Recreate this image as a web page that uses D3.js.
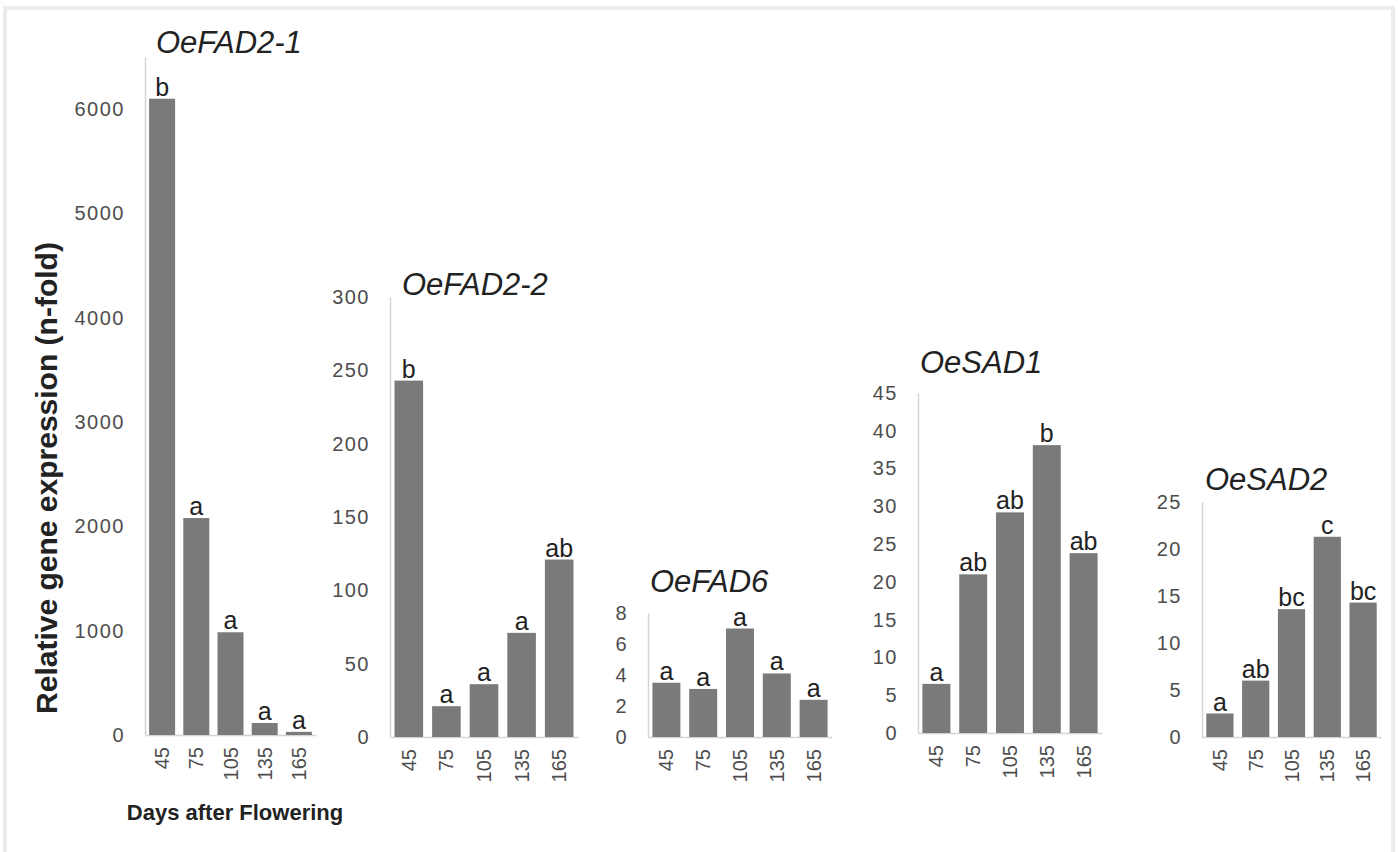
<!doctype html>
<html>
<head>
	<script src="https://d3js.org/d3.v7.min.js"></script>
</head>
<body style="margin: 0; background-color: white;">
	<div id="my_dataviz"></div>
	<script>
		// data
		var days = ["45", "75", "105", "135", "165"];
		var genes = ["OeFAD2-1", "OeFAD2-2", "OeFAD6", "OeSAD1", "OeSAD2"];

		var fad21 = [6100, 2080, 985, 115, 30];
		var fad22 = [243, 21, 36, 71, 121];
		var fad6 = [3.5, 3.1, 7.0, 4.1, 2.4];
		var sad1 = [6.5, 21, 29.2, 38.1, 23.8];
		var sad2 = [2.5, 6.0, 13.6, 21.3, 14.3];

		var fad21Letters = ["b", "a", "a", "a", "a"];
		var fad22Letters = ["b", "a", "a", "a", "ab"];
		var fad6Letters = ["a", "a", "a", "a", "a"];
		var sad1Letters = ["a", "ab", "ab", "b", "ab"];
		var sad2Letters = ["a", "ab", "bc", "c", "bc"];

		var fad21Ticks = [0, 1000, 2000, 3000, 4000, 5000, 6000];
		var fad22Ticks = [0, 50, 100, 150, 200, 250, 300];
		var fad6Ticks = [0, 2, 4, 6, 8];
		var sad1Ticks = [0, 5, 10, 15, 20, 25, 30, 35, 40, 45];
		var sad2Ticks = [0, 5, 10, 15, 20, 25];

		var values = [fad21, fad22, fad6, sad1, sad2];
		var letters = [fad21Letters, fad22Letters, fad6Letters, sad1Letters, sad2Letters];
		var ticks = [fad21Ticks, fad22Ticks, fad6Ticks, sad1Ticks, sad2Ticks];
		var yMax = [6500, 300, 8, 45, 25];

		// panel placement on the page
		var panels = [
			{x0: 145, x1: 316, base: 735, top: 57, tx: 156, ty: 53},
			{x0: 390, x1: 578, base: 737, top: 297, tx: 402, ty: 295},
			{x0: 648, x1: 832, base: 737, top: 613, tx: 650, ty: 592},
			{x0: 918, x1: 1102, base: 733, top: 393, tx: 920, ty: 373},
			{x0: 1202, x1: 1381, base: 737, top: 502, tx: 1205, ty: 490}
		];

		var W = 1398, H = 852;
		var font = "Liberation Sans, Arial, Helvetica, sans-serif";

		var svg = d3.select("#my_dataviz")
		  .append("svg")
			.attr("width", W)
			.attr("height", H)
			.style("display", "block");

		// faint frame round the figure
		svg.append("rect")
			.attr("x", 5).attr("y", 8)
			.attr("width", 1388).attr("height", 900)
			.attr("fill", "none")
			.attr("stroke", "#ececec")
			.attr("stroke-width", 4);

		panels.forEach(function(p, i) {
			var x = d3.scaleBand()
				.domain(days)
				.range([p.x0, p.x1])
				.paddingInner(0.24)
				.paddingOuter(0.12);
			var y = d3.scaleLinear()
				.domain([0, yMax[i]])
				.range([p.base, p.top]);

			var g = svg.append("g");

			// y axis
			var ya = g.append("g")
				.attr("transform", "translate(" + p.x0 + ",0)")
				.call(d3.axisLeft(y).tickValues(ticks[i]).tickFormat(d3.format("d")).tickSize(0).tickPadding(20));
			ya.select(".domain").attr("stroke", "#d4d4d4").attr("stroke-width", 1.5);
			ya.selectAll("text")
				.style("font-family", font)
				.style("font-size", "20px")
				.style("letter-spacing", "1.5px")
				.attr("fill", "#4d4d4d");

			// x axis
			var xa = g.append("g")
				.attr("transform", "translate(0," + p.base + ")")
				.call(d3.axisBottom(x).tickSize(0).tickSizeOuter(0));
			xa.select(".domain").attr("stroke", "#d4d4d4").attr("stroke-width", 1.5);
			xa.selectAll("text")
				.attr("transform", "rotate(-90)")
				.attr("text-anchor", "end")
				.attr("x", -12)
				.attr("y", 0)
				.attr("dy", "0.35em")
				.style("font-family", font)
				.style("font-size", "20px")
				.attr("fill", "#4d4d4d");

			var rows = days.map(function(d, j) { return {day: d, v: values[i][j], l: letters[i][j]}; });

			// bars
			g.selectAll("rect.bar")
				.data(rows)
				.enter()
				.append("rect")
				  .attr("class", "bar")
				  .attr("x", function(d) { return x(d.day); })
				  .attr("width", x.bandwidth())
				  .attr("y", function(d) { return y(d.v); })
				  .attr("height", function(d) { return p.base - y(d.v); })
				  .attr("fill", "#7a7a7a");

			// significance letters
			g.selectAll("text.lbl")
				.data(rows)
				.enter()
				.append("text")
				  .attr("class", "lbl")
				  .attr("x", function(d) { return x(d.day) + x.bandwidth() / 2; })
				  .attr("y", function(d) { return y(d.v) - 3; })
				  .attr("text-anchor", "middle")
				  .style("font-family", font)
				  .style("font-size", "25px")
				  .attr("fill", "#222")
				  .text(function(d) { return d.l; });

			// gene title
			g.append("text")
				.attr("x", p.tx)
				.attr("y", p.ty)
				.style("font-family", font)
				.style("font-size", "31px")
				.style("font-style", "italic")
				.attr("fill", "#222")
				.text(genes[i]);
		});

		// axis titles
		svg.append("text")
			.attr("transform", "translate(57,478) rotate(-90)")
			.attr("text-anchor", "middle")
			.style("font-family", font)
			.style("font-size", "30px")
			.style("font-weight", "bold")
			.attr("fill", "#222")
			.text("Relative gene expression (n-fold)");

		svg.append("text")
			.attr("x", 235)
			.attr("y", 820)
			.attr("text-anchor", "middle")
			.style("font-family", font)
			.style("font-size", "22px")
			.style("font-weight", "bold")
			.attr("fill", "#222")
			.text("Days after Flowering");
	</script>
</body>
</html>
